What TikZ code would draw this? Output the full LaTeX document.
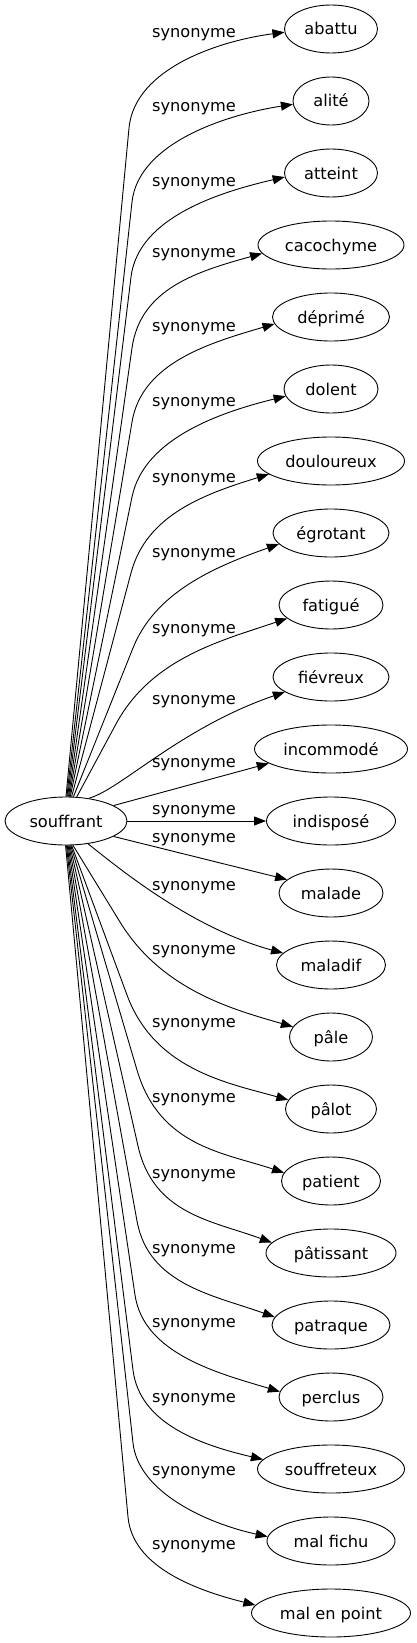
\documentclass[tikz,border=0pt]{standalone}
\usepackage{fontspec}
\setmainfont{DejaVu Sans}
\usetikzlibrary{shapes.geometric,arrows.meta,calc}
\begin{document}
\begin{tikzpicture}[x=1pt,y=-1pt]
\tikzset{
 every node/.style={font=\fontsize{16.2}{19}\selectfont},
 ell/.style={draw, ellipse, line width=0.9pt, minimum height=48pt, inner sep=0pt, text height=12pt, text depth=0pt},
 lbl/.style={anchor=base, inner sep=0pt},
 syn/.style={draw, line width=0.9pt, -{Triangle[length=12pt,width=9pt]}},
}
\useasboundingbox (0,0) rectangle (416,1643);
% source
\node[ell, minimum width=122pt] (souffrant) at (66,821) {souffrant};
% targets
\foreach \n/\txt/\rx [count=\i from 0] in {
 abattu/abattu/46.5, alite/alité/38, atteint/atteint/46.5, cacochyme/cacochyme/73,
 deprime/déprimé/58.5, dolent/dolent/47, douloureux/douloureux/73.5, egrotant/égrotant/58,
 fatigue/fatigué/52, fievreux/fiévreux/58, incommode/incommodé/76.5, indispose/indisposé/64.5,
 malade/malade/52, maladif/maladif/54.5, pale/pâle/41.5, palot/pâlot/45.5,
 patient/patient/49.5, patissant/pâtissant/65, patraque/patraque/59, perclus/perclus/52,
 souffreteux/souffreteux/73.5, malfichu/mal fichu/64, malenpoint/mal en point/79.5}
{
 \node[ell, minimum width={2*\rx}] (\n) at (331,{29+72*\i}) {\txt};
}
% labels
\foreach \yl [count=\i from 0] in {33,107,182,253,327,402,478,553,629,700,763,810,838,886,950,1023,1098,1174,1249,1323,1398,1471,1545}
{
 \node[lbl] (lbl\i) at (194,{\yl+4.5}) {synonyme};
}
% curved edges: straight run, then bend
\foreach \n/\yl/\sa/\bx/\boff/\lt/\dy/\py/\rx/\lf in {
 abattu/33/90/129/95/60/3/8.5/46.5/65,
 alite/107/88/132/95/60/3/10/38/65,
 atteint/182/86/131/95/60/4/15/46.5/65,
 cacochyme/253/84/132/95/60/8/18/73/65,
 deprime/327/82/132/95/60/7/19/58.5/65,
 dolent/402/80/132/95/60/7/16/47/65,
 douloureux/478/77/131/95/60/13/20/73.5/65,
 egrotant/553/73/133/95/60/11/23/58/65,
 fatigue/629/66/116/95/75/13/22/52/65,
 pale/950/286/120/-28/80/-10/-17.4/41.5/60,
 palot/1023/283/127/-28/80/-9/-16.8/45.5/60,
 patient/1098/281/137/-28/80/-8/-20/49.5/60,
 patissant/1174/279/138/-28/70/-10/-22/65/60,
 patraque/1249/277/137/-28/65/-8/-21.6/59/60,
 perclus/1323/275/135/-28/60/-5/-18/52/60,
 souffreteux/1398/273/133/-28/55/-9/-14/73.5/60,
 malfichu/1471/271/133/-28/50/-4/-13/64/60,
 malenpoint/1545/269/128/-28/50/-8/-15/79.5/60}
{
 \pgfmathsetmacro\ex{\rx*sqrt(1-(\dy/24)^2)}
 \pgfmathtruncatemacro\ea{round(180+atan(\dy/\ex))}
 \coordinate (B) at (\bx,{\yl+\boff});
 \draw[syn] (souffrant.\sa) -- (B) .. controls ($(B)!-\lt pt!(souffrant.\sa)$) and ($(\n.\ea)+(-\lf,\py)$) .. (\n.\ea);
}
% middle edges
\draw[syn] (souffrant.45) .. controls (120,790) and (180,728) .. (fievreux.198);
\draw[syn] (souffrant.18) -- (incommode.193);
\draw[syn] (souffrant.east) -- (indispose.west);
\draw[syn] (souffrant.342) -- (malade.163);
\draw[syn] (souffrant.314) .. controls (115,865) and (190,928) .. (maladif.166);
\end{tikzpicture}
\end{document}
